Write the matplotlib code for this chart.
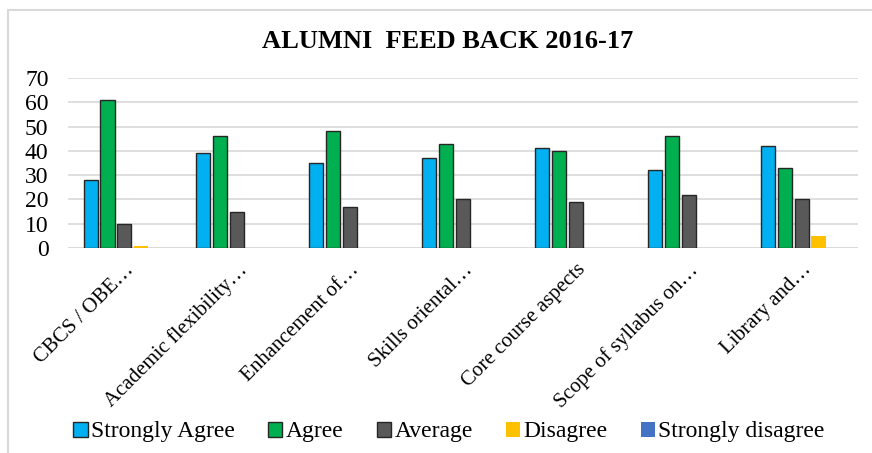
import numpy as np
import matplotlib.pyplot as plt
from matplotlib.patches import Rectangle

plt.rcParams['font.family'] = ['Liberation Serif', 'DejaVu Serif']

categories = ["CBCS / OBE…", "Academic flexibility…", "Enhancement of…",
              "Skills oriental…", "Core course aspects", "Scope of syllabus on…",
              "Library and…"]
series_names = ["Strongly Agree", "Agree", "Average", "Disagree", "Strongly disagree"]
strongly_agree = [28, 39, 35, 37, 41, 32, 42]
agree = [61, 46, 48, 43, 40, 46, 33]
average = [10, 15, 17, 20, 19, 22, 20]
disagree = [1, 0, 0, 0, 0, 0, 5]
strongly_disagree = [0, 0, 0, 0, 0, 0, 0]

colors = ["#00B0F0", "#00B050", "#595959", "#FFC000", "#4472C4"]
edges = ["#262626", "#262626", "#262626", "none", "none"]
values = [strongly_agree, agree, average, disagree, strongly_disagree]

fig = plt.figure(figsize=(8.72, 4.53), dpi=100)
ax = fig.add_axes([68 / 872, 1 - 248 / 453, (858 - 68) / 872, (248 - 78) / 453])

x = np.arange(len(categories))
slot = 0.15
width = 0.125
for i, (name, vals) in enumerate(zip(series_names, values)):
    ax.bar(x + (i - 2) * slot, vals, width, color=colors[i], edgecolor=edges[i],
           linewidth=1.0, label=name, zorder=3)

ax.set_xlim(-0.5, len(categories) - 0.5)
ax.set_ylim(0, 70)
ax.set_yticks(range(0, 71, 10))
ax.yaxis.grid(True, color="#D9D9D9", linewidth=1.2, zorder=0)
for s in ax.spines.values():
    s.set_visible(False)
ax.axhline(0, color="#D9D9D9", linewidth=1.2, zorder=1)
ax.tick_params(axis='both', length=0, colors="black")
ax.tick_params(axis='y', pad=14, labelsize=17)
ax.set_xticks(x)
ax.set_xticklabels(categories, rotation=45, ha='right', rotation_mode='anchor', fontsize=15)
ax.tick_params(axis='x', pad=9)

fig.text(0.513, 1 - 42 / 453, "ALUMNI  FEED BACK 2016-17", ha='center', va='center',
         fontsize=19, fontweight='bold')

fig.legend(loc='center', bbox_to_anchor=(0.515, 1 - 432 / 453), ncol=5, frameon=False,
           prop={'family': 'Liberation Serif', 'size': 17},
           handlelength=0.6, handleheight=0.6, handletextpad=0.15,
           columnspacing=1.4)

fig.patches.append(Rectangle((8 / 872, -0.1), 1.2, (1 - 10 / 453) + 0.1, transform=fig.transFigure,
                             fill=False, edgecolor="#D9D9D9", linewidth=1.5))

fig.savefig("out.png", dpi=100)
